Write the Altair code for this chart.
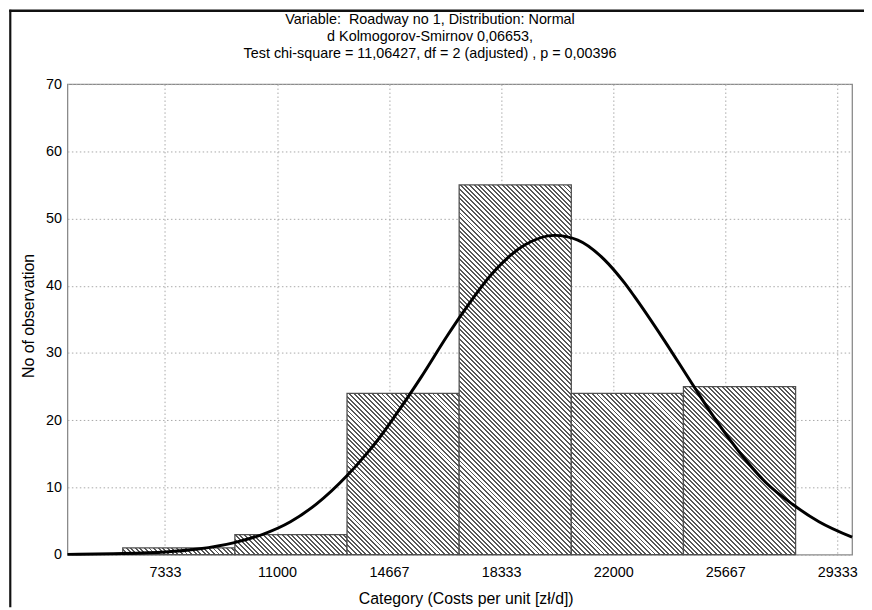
import altair as alt
import pandas as pd

# ---------------- data ----------------
title_lines = [
    "Variable:  Roadway no 1, Distribution: Normal",
    "d Kolmogorov-Smirnov 0,06653,",
    "Test chi-square = 11,06427, df = 2 (adjusted) , p = 0,00396",
]
x_title = "Category (Costs per unit [zł/d])"
y_title = "No of observation"

bin_start = [5950, 9620, 13290, 16960, 20630, 24300]
bin_end = [9620, 13290, 16960, 20630, 24300, 27970]
counts = [1, 3, 24, 55, 24, 25]

curve_x = [4142, 5636, 7333, 8413, 9603, 10576, 11439, 12305, 13278, 13927,
           14251, 14900, 15700, 16576, 17063, 18036, 19115, 20088, 20844,
           21710, 22358, 22682, 23655, 24573, 25274, 26140, 27004, 27869,
           28735, 29820]
curve_y = [0.05, 0.15, 0.4, 0.85, 1.8, 3.1, 4.9, 7.6, 11.7, 15.0,
           16.8, 20.9, 26.3, 32.6, 35.9, 41.8, 46.1, 47.5, 46.8,
           43.9, 40.5, 38.5, 32.0, 25.5, 20.6, 15.2, 10.7, 7.5,
           4.9, 2.6]

x_ticks = [7333.33, 11000, 14666.67, 18333.33, 22000, 25666.67, 29333.33]
y_ticks = [0, 10, 20, 30, 40, 50, 60, 70]

# ---------------- layout / style ----------------
X_DOMAIN = [4140, 29820]
Y_DOMAIN = [0, 70]
PLOT_W, PLOT_H = 792, 475
PAD = {"left": 60, "top": 74, "right": 12, "bottom": 53}
FONT = "Liberation Sans"
HATCH_DARK = "#575757"
HATCH_LIGHT = "#ffffff"
HATCH_PERIOD = 4.7   # horizontal period of hatch lines, px
HATCH_FRAC = 0.42
TITLE_X = 366
TITLE_Y = [-65, -47.5, -30]
TITLE_SIZE = 14.5

bars_df = pd.DataFrame({
    "idx": list(range(len(counts))),
    "start": bin_start,
    "end": bin_end,
    "count": counts,
    "base": [0] * len(counts),
})
curve_df = pd.DataFrame({"x": curve_x, "y": curve_y})

x_scale = alt.Scale(domain=X_DOMAIN, nice=False, zero=False)
y_scale = alt.Scale(domain=Y_DOMAIN, nice=False)

x_axis = alt.Axis(
    values=x_ticks, format=".0f", title=x_title, grid=True,
    gridColor="#a8a8a8", gridDash=[1.5, 2.5], gridWidth=1,
    ticks=False, domain=False, labelFont=FONT, labelFontSize=14.5,
    labelColor="#000", labelPadding=11, labelFlush=False, labelOverlap=False,
    titleFont=FONT, titleFontSize=16, titleFontWeight="normal",
    titleColor="#000", titleX=402, titleY=44, titleBaseline="middle",
    titleAlign="center",
)
y_axis = alt.Axis(
    values=y_ticks, title=y_title, grid=True,
    gridColor="#a8a8a8", gridDash=[1.5, 2.5], gridWidth=1,
    ticks=False, domain=False, labelFont=FONT, labelFontSize=14.5,
    labelColor="#000", labelPadding=6, labelFlush=False,
    titleFont=FONT, titleFontSize=16, titleFontWeight="normal",
    titleColor="#000", titleX=-39, titleY=PLOT_H / 2 - 4, titleAngle=270,
    titleBaseline="middle", titleAlign="center",
)


def hatch_gradient(w_px, h_px):
    """Diagonal '\\' hatch as a striped linear gradient in bbox units."""
    h_px = max(h_px, 1.0)
    s = (w_px + h_px) / (w_px ** 2 + h_px ** 2)
    n = max(1, int(round((w_px + h_px) / HATCH_PERIOD)))
    stops = []
    for k in range(n):
        a = k / n
        b = (k + HATCH_FRAC) / n
        c = (k + 1) / n
        stops += [
            {"offset": round(a, 5), "color": HATCH_DARK},
            {"offset": round(b, 5), "color": HATCH_DARK},
            {"offset": round(b, 5), "color": HATCH_LIGHT},
            {"offset": round(c, 5), "color": HATCH_LIGHT},
        ]
    return {
        "gradient": "linear",
        "x1": 0, "y1": 1,
        "x2": s * w_px, "y2": 1 - s * h_px,
        "stops": stops,
    }


px_per_x = PLOT_W / (X_DOMAIN[1] - X_DOMAIN[0])
px_per_y = PLOT_H / (Y_DOMAIN[1] - Y_DOMAIN[0])

layers = []
for i in range(len(counts)):
    w = (bin_end[i] - bin_start[i]) * px_per_x
    h = counts[i] * px_per_y
    layers.append(
        alt.Chart(bars_df)
        .transform_filter(alt.datum.idx == i)
        .mark_rect(fill=hatch_gradient(w, h), stroke="#505050", strokeWidth=1.3)
        .encode(
            x=alt.X("start:Q", scale=x_scale, axis=x_axis),
            x2="end:Q",
            y=alt.Y("count:Q", scale=y_scale, axis=y_axis),
            y2="base:Q",
        )
    )

curve = (
    alt.Chart(curve_df)
    .mark_line(color="#000000", strokeWidth=3, interpolate="monotone")
    .encode(
        x=alt.X("x:Q", scale=x_scale, axis=x_axis),
        y=alt.Y("y:Q", scale=y_scale, axis=y_axis),
    )
)
layers.append(curve)

frame_df = pd.DataFrame({"k": [0]})
left_frame = alt.Chart(frame_df).mark_rule(color="#111111", strokeWidth=2.2).encode(
    x=alt.value(-57.7), y=alt.value(-75), y2=alt.value(PLOT_H + PAD["bottom"])
)
top_frame = alt.Chart(frame_df).mark_rule(color="#111111", strokeWidth=2.5).encode(
    x=alt.value(-58.8), x2=alt.value(PLOT_W + PAD["right"]), y=alt.value(-74)
)
layers += [left_frame, top_frame]

for line, ty in zip(title_lines, TITLE_Y):
    shown = line.replace("  ", " \u00a0")  # keep the double space visible
    layers.append(
        alt.Chart(frame_df)
        .mark_text(font=FONT, fontSize=TITLE_SIZE, color="#000", align="center",
                   baseline="middle")
        .encode(x=alt.value(TITLE_X), y=alt.value(ty), text=alt.value(shown))
    )

chart = (
    alt.layer(*layers)
    .properties(
        width=PLOT_W,
        height=PLOT_H,
        padding=PAD,
        autosize=alt.AutoSizeParams(type="none"),
        background="white",
    )
    .configure_view(stroke="#8a8a8a", strokeWidth=1.3)
)

chart.save("out.html", embed_options={"renderer": "svg", "actions": False})
